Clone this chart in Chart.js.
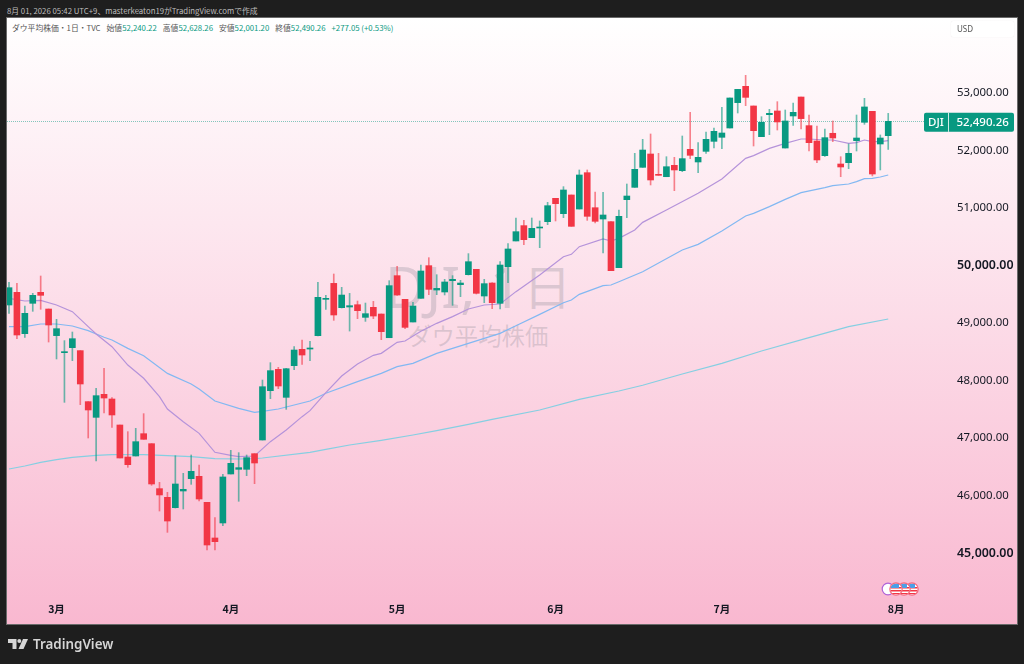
<!DOCTYPE html>
<html lang="ja">
<head>
<meta charset="utf-8">
<title>DJI</title>
<script src="https://cdn.jsdelivr.net/npm/chart.js@4"></script>
<style>
    html, body { margin: 0; background: #1e1e1e; width: 1024px; height: 664px; overflow: hidden; }
    body { font-family: "Noto Sans CJK JP", "Noto Sans", sans-serif; position: relative; }
    .abs { position: absolute; white-space: nowrap; }
    #frame { left: 6px; top: 17px; width: 1010px; height: 606px; border: 1px solid #6a6a6a;
        background: linear-gradient(180deg, #ffffff 0%, #f9b8d0 100%); }
    #shot { left: 7px; top: 4px; font-size: 7.8px; line-height: 13px; color: #bdbdbd; }
    #legend { left: 12px; top: 21px; font-size: 7.8px; line-height: 14px; color: #555; }
    #legend b { font-weight: 400; color: #089981; }
    #legend span { margin-left: 6px; }
    #usd { left: 951px; top: 21px; width: 57px; height: 16px; padding-left: 6px; background: #fff; border-radius: 2px;
        box-shadow: 0 0 1px rgba(0,0,0,.12); font: 8px/16px "Noto Sans", sans-serif; color: #555; }
    #wm1 { left: 385px; top: 250px; font: 56px/72px "Noto Sans", sans-serif; color: rgba(120,123,134,.25); }
    #wm1 span { font: 48px/72px "Noto Sans CJK JP", sans-serif; margin-left: -13px; position: relative; top: -3px; }
    #wm2 { left: 408px; top: 320px; font-size: 23.4px; line-height: 30px; color: rgba(120,123,134,.25); }
    #brand { left: 33px; top: 634px; font: 600 13.4px/20px "Noto Sans", sans-serif; color: #d6d6d6; }
    canvas { position: absolute; left: 0; top: 0; }
</style>
</head>
<body>
<div class="abs" id="frame"></div>
<div class="abs" id="shot">8月 01, 2026 05:42 UTC+9、masterkeaton19がTradingView.comで作成</div>
<div class="abs" id="legend">ダウ平均株価・1日・TVC<span>始値<b>52,240.22</b></span><span>高値<b>52,628.26</b></span><span>安値<b>52,001.20</b></span><span>終値<b>52,490.26</b></span><span><b>+277.05 (+0.53%)</b></span></div>
<div class="abs" id="wm1">DJI, 1 <span>日</span></div>
<div class="abs" id="wm2">ダウ平均株価</div>
<canvas id="chart" width="1024" height="664"></canvas>
<div class="abs" id="usd">USD</div>
<svg class="abs" style="left:880px;top:581px" width="40" height="16" viewBox="0 0 40 16">
    <defs>
        <g id="flag">
            <circle r="5.8" fill="#fff"/>
            <path d="M-5.5-2h11v1.6h-11zM-5.5 1h11v1.6h-11zM-4.5 4h9v1h-9z" fill="#f23645"/>
            <path d="M-5.6 0a5.6 5.6 0 0 1 5.6-5.6h3v4.6h-8.6z" fill="#4a9fe8"/>
            <circle r="6.2" fill="none" stroke="#f56c80" stroke-width="1.2"/>
        </g>
    </defs>
    <circle cx="8" cy="8" r="5.8" fill="#fff" stroke="#b062d8" stroke-width="1.2"/>
    <use href="#flag" x="32" y="8"/><use href="#flag" x="24" y="8"/><use href="#flag" x="16" y="8"/>
</svg>
<svg class="abs" style="left:8px;top:639px" width="20" height="10" viewBox="0 0 20 10" fill="#d6d6d6">
    <path d="M0 0h8.5v10H4.5V4H0z"/><circle cx="11.3" cy="2" r="2"/><path d="M15 0h5l-4.5 10h-5z"/>
</svg>
<div class="abs" id="brand">TradingView</div>

<script>
// ロウソク足 (index 0 .. 111)
const opens = [49296,49516,48797,49325,49516,49226,48763,48467,48554,48502,47615,47342,47742,47661,47209,46652,46670,47058,46884,46102,45951,45771,46061,46275,46316,45864,45244,45505,46357,46438,
    46438,46710,46948,47806,48177,47690,48241,48525,48530,48762,49394,49672,49249,49261,49301,49081,49255,49139,48727,49806,49394,49000,49412,49980,49556,
    49522,49719,49649,49823,49916,49452,49678,49325,49962,50409,50676,50467,50635,50745,51151,50884,51209,50965,51597,50988,50791,50745,49945,
    51128,51342,51690,51922,51568,51527,51725,51632,52003,51783,51968,52142,52212,52374,52815,53099,52757,52223,52606,52670,52026,52583,52913,52415,52148,51893,52282,51748,51771,52154,52473,52664,52096,52240.22];
const highs = [49690,49673,49279,49499,49800,49226,49047,48676,48826,48502,47615,47847,48195,47684,47209,47093,47151,47406,46884,46212,46038,46675,46368,46687,46513,45864,45597,46351,46768,46728,
    46687,46710,47991,48293,48212,48194,48571,48687,48664,49690,49464,49835,49603,49498,49365,49330,49359,49139,49719,49968,49394,49342,49991,50119,49823,
    49742,49806,49725,50189,49916,49742,49684,50049,50362,50809,50768,50809,50757,51081,51151,51354,51209,51644,51644,51261,51255,50745,50948,
    51400,51933,52177,52270,51933,51875,51864,52235,52647,52119,52305,52374,52733,52896,53046,53290,52757,52571,52699,52832,52687,52809,52913,52600,52409,52357,52496,51875,52096,52600,52890,52664,52253,52628.26];
const lows = [49151,48710,48734,49186,49221,48652,48357,47603,48328,47563,46983,46583,47418,47168,46635,46473,46670,46960,46160,45713,45342,45765,45748,46177,45887,45035,45035,45458,46357,45882,
    46328,46188,46948,47667,47841,47481,48171,48264,48327,48757,49220,49029,49243,48843,49058,49011,49058,48693,48727,49464,48884,49000,49412,49475,49475,
    49470,49290,49441,49817,49487,49336,49232,49226,49684,50409,50345,50467,50293,50693,50757,50815,50664,50965,50768,50722,50200,49893,49945,
    50815,51342,51690,51383,51551,51527,51284,51614,51841,51597,51933,52026,52015,52374,52635,52762,52061,52223,52258,52339,52026,52421,52357,51974,51771,51881,52137,51527,51667,51974,52438,51540,51644,52001.20];
const closes = [49597,48774,49151,49464,49464,48948,48884,48478,48710,47922,47470,47719,47678,47383,46635,46519,46919,46960,46183,45992,45539,46183,46090,46403,45922,45122,45180,46305,46542,46467,
    46641,46548,47875,48154,47887,48188,48513,48426,48548,49429,49412,49122,49469,49284,49197,49145,49104,48832,49632,49469,48907,49278,49887,49568,49585,
    49696,49742,49678,50049,49499,49667,49336,49991,50270,50571,50432,50629,50652,51023,51058,51296,50664,51557,50838,50751,50861,49893,50838,
    51191,51655,51991,51470,51551,51701,51644,51841,51899,51864,52177,52316,52287,52896,53046,52907,52328,52473,52629,52479,52496,52647,52537,52119,51818,52206,52200,51696,51933,52200,52740,51574,52200,52490.26];

// 移動平均線 (picture から読み取り)
const ma20Idx = [0,2,4,6,8,10,11,13,15,17,19,20,22,24,26,28,29,31,33,35,37,38,40,42,44,46,47,49,50,52,54,56,58,60,62,64,67,70,71,72,75,76,77,79,80,83,87,90,93,94,96,98,100,101,103,104,106,107,108,109,110,111];
const ma20 = [49412,49365,49377,49296,49180,48919,48792,48571,48252,48021,47702,47487,47267,47064,46734,46682,46658,46670,46919,47122,47354,47458,47771,48061,48270,48421,48455,48647,48670,48840,48977,49093,49226,49296,49313,49528,49817,50136,50177,50310,50444,50409,50455,50600,50733,50948,51238,51487,51846,51893,52020,52107,52183,52183,52165,52165,52107,52119,52165,52136,52136,52153];
const ma50Idx = [0,2,4,6,8,10,12,13,15,17,20,23,24,26,29,31,32,34,38,40,44,47,49,51,54,62,64,67,70,71,72,75,76,77,80,85,87,90,93,94,96,98,100,103,104,106,107,108,109,110,111];
const ma50 = [48919,48919,48965,48965,48931,48850,48734,48687,48542,48415,48107,47922,47835,47626,47499,47429,47447,47487,47626,47760,47963,48107,48223,48281,48455,48803,48936,49133,49336,49383,49481,49632,49644,49700,49875,50252,50350,50583,50843,50890,51006,51133,51249,51336,51371,51400,51441,51493,51499,51522,51556];
const ma200Idx = [0,2,4,6,8,11,13,17,20,23,26,29,31,32,38,40,43,47,51,54,58,61,67,72,77,80,85,90,95,101,106,111];
const ma200 = [46444,46496,46560,46606,46647,46682,46693,46693,46675,46658,46623,46618,46623,46635,46734,46786,46861,46942,47035,47110,47220,47308,47470,47655,47800,47900,48096,48281,48496,48728,48919,49052];

const monthPos = [6,28,49,69,90,112];
const monthLabels = ['3月','4月','5月','6月','7月','8月'];
const priceTicks = [53000,52000,51000,50000,49000,48000,47000,46000,45000];
const boldTicks = [50000,45000];
const lastPrice = 52490.26;
const lastLabel = '52,490.26';
const symbol = 'DJI';

const UP = '#089981';
const DOWN = '#f23645';
const UP_WICK = 'rgba(8,153,129,.6)';
const DOWN_WICK = 'rgba(242,54,69,.6)';

const isUp = closes.map((c, i) => c >= opens[i]);

function points(idx, vals) {
    return idx.map((x, i) => ({ x: x, y: vals[i] }));
}

function maLine(idx, vals, color, order) {
    return { type: 'line', data: points(idx, vals), borderColor: color, borderWidth: 1.2, pointRadius: 0, tension: 0, order: order };
}

// 現在値ライン + 右のラベル
const lastPricePlugin = {
    id: 'lastPrice',
    beforeDatasetsDraw(chart) {
        const ctx = chart.ctx;
        const y = Math.round(chart.scales.y.getPixelForValue(lastPrice)) + 0.5;
        ctx.save();
        ctx.strokeStyle = 'rgba(8,153,129,.5)';
        ctx.lineWidth = 1;
        ctx.setLineDash([1, 1]);
        ctx.beginPath();
        ctx.moveTo(chart.chartArea.left, y);
        ctx.lineTo(924, y);
        ctx.stroke();
        ctx.restore();
    },
    afterDatasetsDraw(chart) {
        const ctx = chart.ctx;
        const y = chart.scales.y.getPixelForValue(lastPrice);
        ctx.save();
        ctx.fillStyle = UP;
        ctx.beginPath();
        ctx.roundRect(924, y - 8.5, 90, 19, 2);
        ctx.fill();
        ctx.fillStyle = 'rgba(255,255,255,.8)';
        ctx.fillRect(948, y - 8.5, 1, 19);
        ctx.fillStyle = '#fff';
        ctx.textBaseline = 'middle';
        ctx.font = '500 11.5px "Noto Sans", sans-serif';
        ctx.textAlign = 'left';
        ctx.fillText(symbol, 928, y + 1);
        ctx.fillText(lastLabel, 956.5, y + 1);
        ctx.restore();
    }
};

new Chart(document.getElementById('chart'), {
    type: 'bar',
    data: {
        datasets: [
            maLine(ma200Idx, ma200, '#85cfe2', 5),
            maLine(ma50Idx, ma50, '#82b8f2', 4),
            maLine(ma20Idx, ma20, '#b593da', 3),
            {
                data: opens.map((o, i) => ({ x: i, y: [lows[i], highs[i]] })),
                backgroundColor: isUp.map(u => u ? UP_WICK : DOWN_WICK),
                barThickness: 1, grouped: false, order: 2
            },
            {
                data: opens.map((o, i) => ({ x: i, y: [o, closes[i]] })),
                backgroundColor: isUp.map(u => u ? UP : DOWN),
                barThickness: 6, grouped: false, minBarLength: 1, order: 1
            }
        ]
    },
    plugins: [lastPricePlugin],
    options: {
        responsive: false,
        animation: false,
        layout: { padding: { left: 7, top: 18, right: 7, bottom: 40 } },
        plugins: { legend: { display: false }, tooltip: { enabled: false } },
        scales: {
            x: {
                type: 'linear',
                offset: false,
                min: -0.252,
                max: 118.8,
                grid: { display: false, drawTicks: false },
                border: { display: false },
                afterBuildTicks: (scale) => { scale.ticks = monthPos.map(v => ({ value: v })); },
                afterFit: (scale) => { scale.height = 28; },
                ticks: {
                    autoSkip: false, maxRotation: 0, padding: 7, color: '#131722',
                    font: { family: '"Noto Sans CJK JP"', size: 10.5, weight: 'bold' },
                    callback: (v) => monthLabels[monthPos.indexOf(v)]
                }
            },
            y: {
                position: 'right',
                min: 44235,
                max: 54287,
                grid: { display: false, drawTicks: false },
                border: { display: false },
                afterBuildTicks: (scale) => { scale.ticks = priceTicks.map(v => ({ value: v })); },
                afterFit: (scale) => { scale.width = 67; },
                ticks: {
                    padding: 7, labelOffset: 1, color: '#131722',
                    font: (c) => boldTicks.includes(c.tick && c.tick.value)
                        ? { family: '"Noto Sans"', size: 12.4, weight: '600' }
                        : { family: '"Noto Sans"', size: 11.4 },
                    callback: (v) => v.toLocaleString('en-US', { minimumFractionDigits: 2 })
                }
            }
        }
    }
});
</script>
</body>
</html>
